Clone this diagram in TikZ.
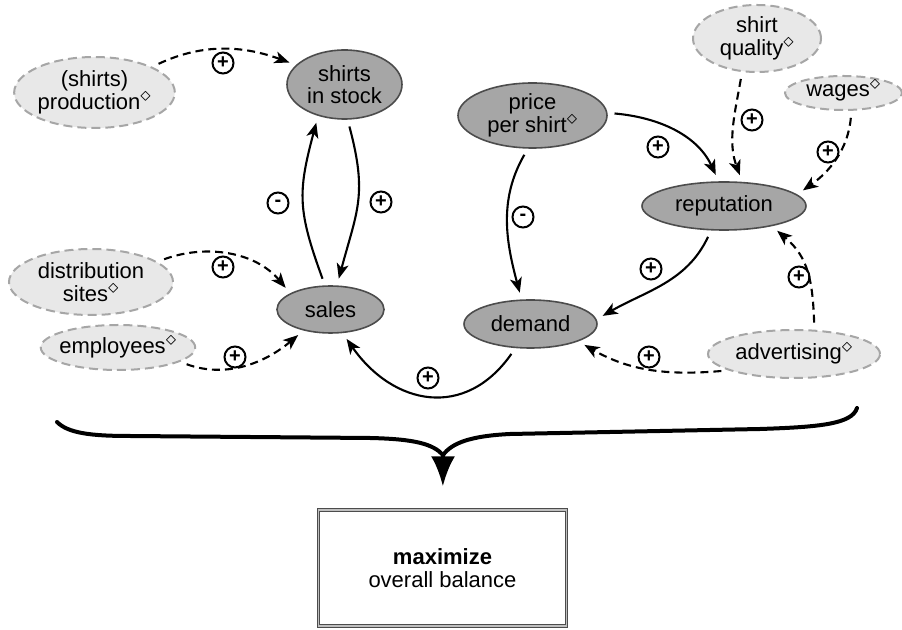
\documentclass[tikz,border=0pt]{standalone}
\usepackage{amsmath,amssymb}
\usepackage{fontspec}
\setmainfont{Liberation Sans}
\usepackage{tikz}
\usetikzlibrary{shapes.geometric,arrows.meta}
\newcommand{\ctrlmark}{\smash{$^{\textstyle\diamond}$}}
\tikzset{
  main/.style={ellipse, draw=black!70, fill=black!35, line width=1.6pt, inner sep=0pt, align=center},
  ctrl/.style={ellipse, draw=black!35, fill=black!9, dash pattern=on 9pt off 5pt, line width=2pt, inner sep=0pt, align=center},
  sign/.style={circle, draw=black, line width=2pt, minimum size=21pt, inner sep=0pt, font=\fontsize{20}{20}\selectfont\bfseries},
  link/.style={line width=2.1pt, -{Stealth[length=15pt,width=12pt,inset=4pt]}, shorten <=7pt, shorten >=7pt},
  dlink/.style={link, dash pattern=on 8pt off 5pt},
  brace/.style={line width=4pt, line cap=round},
  goalbox/.style={rectangle, draw=black!70, double=black!25, double distance=1.3pt, line width=1.3pt, minimum width=248pt, minimum height=116pt, align=center}
}

\begin{document}
\begin{tikzpicture}[x=1pt, y=1pt, font=\fontsize{22}{22.5}\selectfont]
      \useasboundingbox (0,0) rectangle (902,629);
      \node[ctrl, minimum width=147pt, minimum height=71pt] (prod) at (94.5,536.5) {(shirts)\\production\ctrlmark};
      \node[main, minimum width=115pt, minimum height=69pt] (stock) at (344.5,544.5) {shirts\\in stock};
      \node[ctrl, minimum width=164pt, minimum height=66pt, inner sep=-3pt] (dist) at (91,347) {distribution\\sites\ctrlmark};
      \node[ctrl, minimum width=152pt, minimum height=45pt, inner sep=-4pt] (empl) at (118,281.5) {employees\ctrlmark};
      \node[main, minimum width=107pt, minimum height=47pt] (sales) at (330.5,319.5) {sales};
      \node[main, minimum width=149pt, minimum height=65pt] (price) at (532.5,513.5) {price\\per shirt\ctrlmark};
      \node[ctrl, minimum width=128pt, minimum height=67pt] (qual) at (757,590.5) {shirt\\quality\ctrlmark};
      \node[ctrl, minimum width=117pt, minimum height=34pt] (wages) at (843.5,536) {wages\ctrlmark};
      \node[main, minimum width=164pt, minimum height=48pt] (rep) at (724,423) {reputation};
      \node[main, minimum width=133pt, minimum height=48pt] (demand) at (530.5,305) {demand};
      \node[ctrl, minimum width=172pt, minimum height=48pt] (adv) at (794,275) {advertising\ctrlmark};
      \node[goalbox] (goal) at (442.5,61) {\textbf{maximize}\\overall balance};
      \node[sign] (prod-stock) at (223,566) {+};
      \node[sign] (sales-stock) at (278,426) {-};
      \node[sign] (stock-sales) at (381,427) {+};
      \node[sign] (dist-sales) at (223,362) {+};
      \node[sign] (empl-sales) at (235,272) {+};
      \node[sign] (demand-sales) at (428,251) {+};
      \node[sign] (price-rep) at (658,482) {+};
      \node[sign] (price-demand) at (523,412) {-};
      \node[sign] (qual-rep) at (752,509) {+};
      \node[sign] (wages-rep) at (828,477) {+};
      \node[sign] (rep-demand) at (651,360) {+};
      \node[sign] (adv-rep) at (799,352) {+};
      \node[sign] (adv-demand) at (649,272) {+};
      \draw[dlink] (prod.24) to[out=25, in=160] (stock.158);
      \draw[link] (stock.-85) to[out=-75, in=75, looseness=1.2] (sales.75);
      \draw[link] (sales.103) to[out=110, in=-105, looseness=1.2] (stock.-130);
      \draw[dlink] (dist.17) to[out=20, in=130] (sales.158);
      \draw[dlink] (empl.-13) to[out=-20, in=220] (sales.218);
      \draw[link] (demand.-122) to[out=-125, in=-55, looseness=1.3] (sales.-63);
      \draw[link] (price.2) to[out=-5, in=115] (rep.102);
      \draw[link] (price.-98) to[out=-120, in=105] (demand.110);
      \draw[dlink] (qual.-114) to[out=-100, in=110] (rep.53);
      \draw[dlink] (wages.-66) to[out=-95, in=35] (rep.9);
      \draw[link] (rep.-118) to[out=-115, in=30] (demand.4);
      \draw[dlink] (adv.50) to[out=92, in=-40, looseness=1.1] (rep.-23);
      \draw[dlink] (adv.194) to[out=185, in=-30] (demand.-20);
      \coordinate (bl) at (57,207);
      \coordinate (br) at (857,221);
      \coordinate (bm) at (443,174);
      \draw[brace] (bl) .. controls (68,196) and (90,193) .. (130,193) -- (370,191) .. controls (415,190) and (433,185) .. (bm);
      \draw[brace] (br) .. controls (852,205) and (820,202) .. (760,200) -- (510,195) .. controls (470,193) and (452,186) .. (bm);
      \draw[brace, -{Latex[length=30pt,width=24pt]}, shorten >=23pt] (bm) -- (goal);
\end{tikzpicture}
\end{document}
